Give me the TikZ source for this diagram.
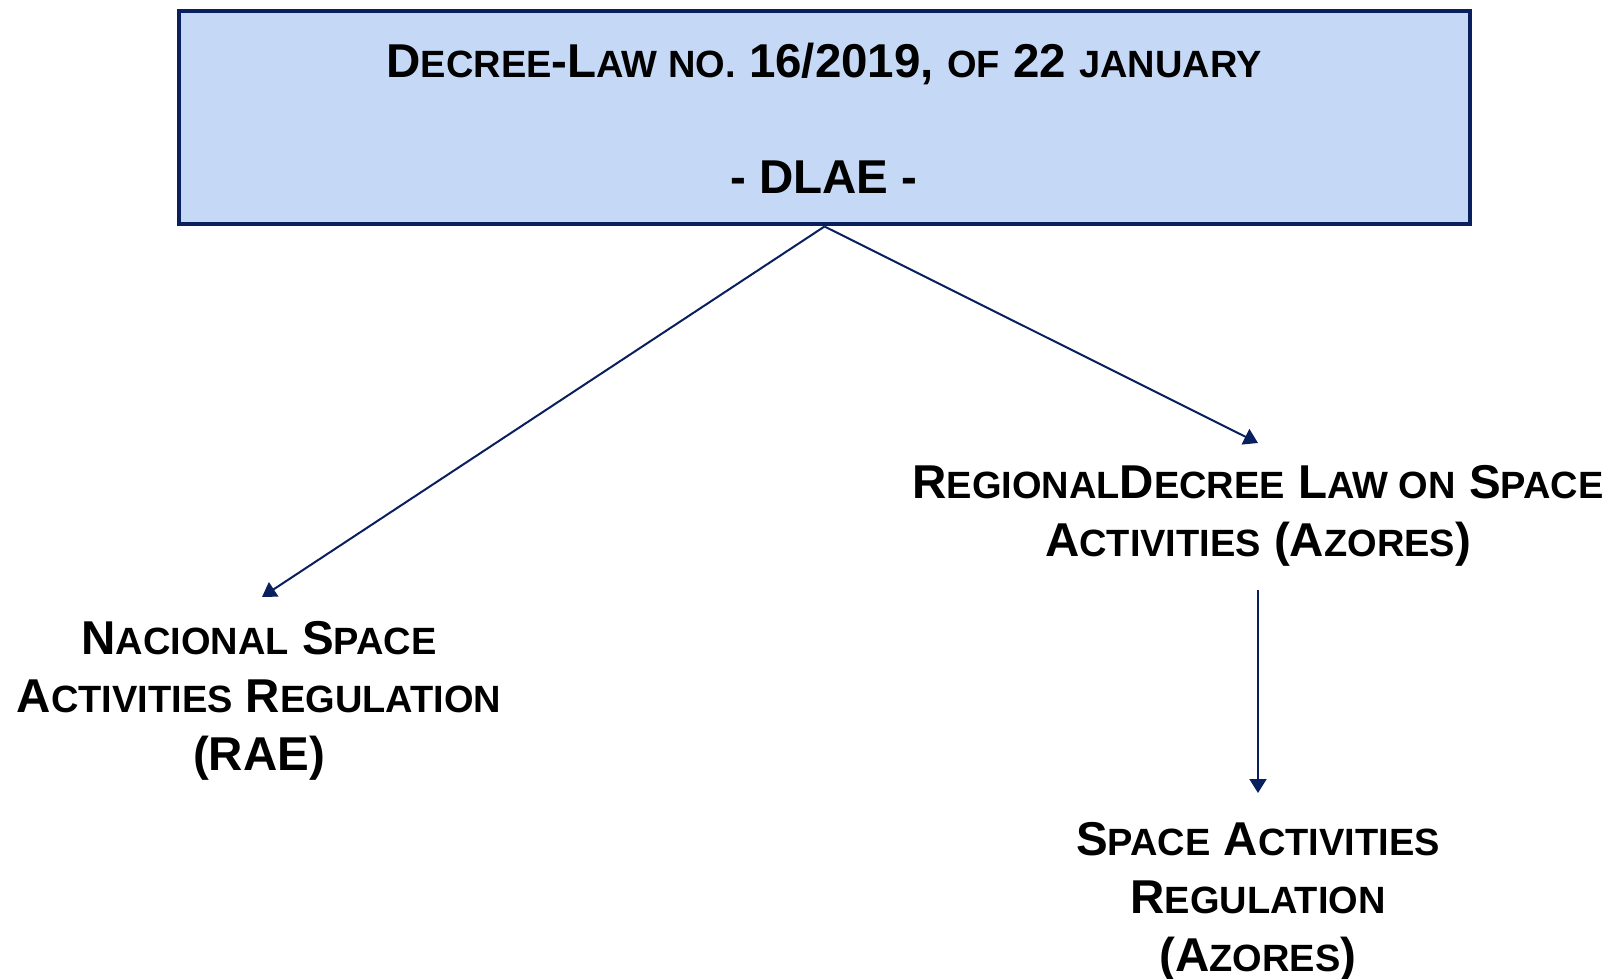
\documentclass[tikz,border=0pt]{standalone}
\usepackage{fontspec}
\setmainfont{Liberation Sans}
\usetikzlibrary{arrows.meta}
\definecolor{boxfill}{HTML}{C5D9F7}
\definecolor{navy}{HTML}{0A1F5E}
\newcommand\smc[1]{{\fontsize{19pt}{29pt}\selectfont #1}}
\begin{document}
\begin{tikzpicture}[x=0.5pt,y=-0.5pt,
  lawtext/.style={align=center,inner sep=0pt,font=\fontsize{23.75pt}{29pt}\selectfont\bfseries},
  lawbox/.style={draw=navy,line width=2pt,fill=boxfill,minimum width=645.5pt,minimum height=106.5pt,inner sep=0pt},
  link/.style={navy,line width=1pt,-{Triangle[length=7pt,width=8.5pt]}}]
\useasboundingbox (0,0) rectangle (1614,979);
\node[lawbox] (dlae) at (824.5,118) {};
\node[lawtext] (dltitle) at (824,118) {D\smc{ECREE}-L\smc{AW NO.} 16/2019, \smc{OF} 22 \smc{JANUARY}\\[29pt]- DLAE -};
\node[lawtext,anchor=north] (nac) at (259,621) {N\smc{ACIONAL} S\smc{PACE}\\A\smc{CTIVITIES} R\smc{EGULATION}\\(RAE)};
\node[lawtext,anchor=north] (reg) at (1258,465) {R\smc{EGIONAL}D\smc{ECREE} L\smc{AW ON} S\smc{PACE}\\A\smc{CTIVITIES} (A\smc{ZORES})};
\node[lawtext,anchor=north] (sub) at (1258,822) {S\smc{PACE} A\smc{CTIVITIES}\\R\smc{EGULATION}\\(A\smc{ZORES})};
% connectors
\draw[link] (dlae.south) -- ([xshift=1.5pt,yshift=12pt]nac.north);
\draw[link] (dlae.south) -- ([yshift=11pt]reg.north);
\draw[link] ([yshift=-11.5pt]reg.south) -- ([yshift=14.5pt]sub.north);
\end{tikzpicture}
\end{document}
